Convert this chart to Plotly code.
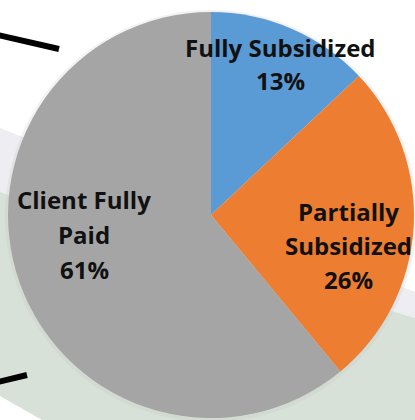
import plotly.graph_objects as go

# slice data
labels = ['Fully Subsidized', 'Partially Subsidized', 'Client Fully Paid']
values = [13, 26, 61]
colors = ['#5B9BD5', '#ED7D31', '#A5A5A5']

# how each label is broken into lines on the chart
label_lines = [['Fully Subsidized'], ['Partially', 'Subsidized'], ['Client Fully', 'Paid']]

W, H = 415, 420


def px(x):
    return x / W


def py(y):
    return 1 - y / H


cx, cy, r = 211, 215, 203

pie = go.Pie(
    labels=labels,
    values=values,
    sort=False,
    direction='clockwise',
    rotation=0,
    marker=dict(colors=colors, line=dict(width=0)),
    textinfo='none',
    hoverinfo='label+percent',
    showlegend=False,
    domain=dict(x=[px(cx - r), px(cx + r)], y=[py(cy + r), py(cy - r)]),
)

fig = go.Figure(pie)

# label placement (pixel centre x, first line y, line step)
label_pos = [(280, 47, 34), (348, 211, 34), (84, 199, 35)]

annotations = []
for lines, val, (lx, ly, step) in zip(label_lines, values, label_pos):
    rows = lines + [f'{val}%']
    for i, t in enumerate(rows):
        annotations.append(dict(
            x=px(lx), y=py(ly + i * step), xref='paper', yref='paper',
            text=f'<b>{t}</b>', showarrow=False,
            xanchor='center', yanchor='middle',
            font=dict(family='Open Sans', size=24, color='#111111'),
        ))


def path(pts):
    return 'M ' + ' L '.join(f'{px(x)},{py(y)}' for x, y in pts) + ' Z'


shapes = [
    # faint slide background bands
    dict(type='path', xref='paper', yref='paper', layer='below', line_width=0,
         fillcolor='#EEEDF2',
         path=path([(0, 128), (415, 292), (415, 318), (0, 192)])),
    dict(type='path', xref='paper', yref='paper', layer='below', line_width=0,
         fillcolor='#D7E1D8',
         path=path([(0, 192), (415, 318), (415, 420), (42, 420), (0, 396)])),
    # soft shadow around the pie
    dict(type='circle', xref='paper', yref='paper', layer='below', line_width=0,
         fillcolor='rgba(190,190,190,0.2)',
         x0=px(cx - r - 3), x1=px(cx + r + 3), y0=py(cy + r + 4), y1=py(cy - r - 2)),
    # black connector strokes
    dict(type='line', xref='paper', yref='paper', line=dict(color='black', width=6),
         x0=px(-2), y0=py(35), x1=px(59), y1=py(49)),
    dict(type='line', xref='paper', yref='paper', line=dict(color='black', width=6),
         x0=px(-2), y0=py(382), x1=px(27), y1=py(375)),
]

fig.update_layout(
    width=W, height=H,
    margin=dict(l=0, r=0, t=0, b=0),
    paper_bgcolor='white',
    plot_bgcolor='white',
    annotations=annotations,
    shapes=shapes,
)

fig.write_html('out.html', config={'displayModeBar': False},
               post_script="document.body.style.margin='0';")
